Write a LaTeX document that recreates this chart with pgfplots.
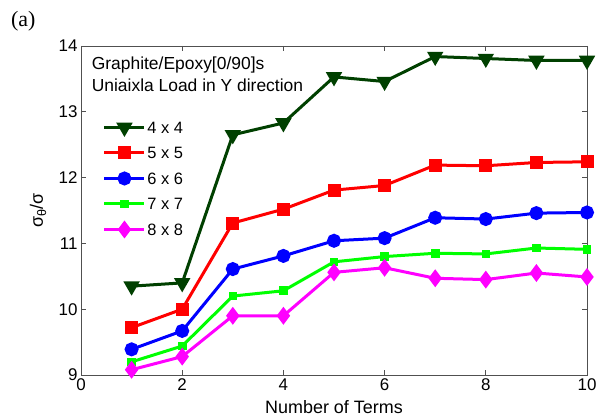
\documentclass[border=0pt]{standalone}
\usepackage{pgfplots}
\pgfplotsset{compat=1.18}
\usepackage{fontspec}
\setmainfont{Liberation Sans}
\newfontfamily\timesfont{Liberation Serif}
\definecolor{dkgreen}{RGB}{0,64,0}
\definecolor{axgray}{RGB}{80,80,80}
\definecolor{mred}{RGB}{255,0,0}
\definecolor{mblue}{RGB}{0,0,255}
\definecolor{mgreen}{RGB}{0,255,0}
\definecolor{mmag}{RGB}{255,0,255}
\begin{document}
\begin{tikzpicture}[x=1bp,y=1bp]
\useasboundingbox (0,0) rectangle (607,419);
\node[anchor=west, font=\timesfont\fontsize{22}{22}\selectfont, inner sep=0pt] at (11,398) {(a)};
\begin{axis}[
  at={(81bp,44bp)}, anchor=south west,
  scale only axis, width=506bp, height=329bp,
  xmin=0, xmax=10, ymin=9, ymax=14,
  xtick={0,2,4,6,8,10}, ytick={9,10,11,12,13,14},
  tick align=inside, major tick length=5bp,
  axis line style={axgray, line width=0.8bp},
  every tick/.style={axgray, line width=0.8bp},
  /pgf/number format/assume math mode=true,
  tick label style={font=\fontsize{17}{17}\selectfont},
  xlabel={Number of Terms},
  ylabel={σ\textsubscript{θ}/σ},
  label style={font=\fontsize{18}{18}\selectfont},
  xlabel style={at={(axis description cs:0.5,-0.0973)}, anchor=center},
  ylabel style={at={(axis description cs:-0.085,0.5)}, anchor=center},
  clip=false,
  every axis plot/.append style={line width=3bp},
  legend style={at={(axis description cs:0.043,0.775)}, anchor=north west,
    draw=none, fill=none, font=\fontsize{16.5}{16.5}\selectfont,
    row sep=11bp, inner sep=0pt,
    nodes={inner sep=1.5bp, text height=11.5bp, text depth=0bp}},
  legend cell align=left,
  legend image code/.code={\draw[mark repeat=2,mark phase=2] plot coordinates {(0bp,0bp)(20bp,0bp)(40bp,0bp)};},
]
\node[anchor=west, font=\fontsize{17.5}{17.5}\selectfont, inner sep=0pt] at (axis description cs:0.021,0.942) {Graphite/Epoxy[0/90]s};
\node[anchor=west, font=\fontsize{17.5}{17.5}\selectfont, inner sep=0pt] at (axis description cs:0.021,0.881) {Uniaixla Load in Y direction};
\addplot[dkgreen, mark=triangle*, mark size=6.5bp, mark options={rotate=180, solid}] coordinates {
(1,10.35)(2,10.40)(3,12.65)(4,12.83)(5,13.53)(6,13.46)(7,13.84)(8,13.81)(9,13.78)(10,13.78)};
\addlegendentry{4 x 4}
\addplot[mred, mark=square*, mark size=5bp] coordinates {
(1,9.72)(2,10.00)(3,11.31)(4,11.52)(5,11.81)(6,11.88)(7,12.19)(8,12.18)(9,12.23)(10,12.24)};
\addlegendentry{5 x 5}
\addplot[mblue, mark=*, mark size=5.5bp] coordinates {
(1,9.39)(2,9.67)(3,10.61)(4,10.81)(5,11.04)(6,11.08)(7,11.39)(8,11.37)(9,11.46)(10,11.47)};
\addlegendentry{6 x 6}
\addplot[mgreen, mark=square*, mark size=2.8bp] coordinates {
(1,9.20)(2,9.44)(3,10.20)(4,10.28)(5,10.72)(6,10.80)(7,10.85)(8,10.84)(9,10.93)(10,10.91)};
\addlegendentry{7 x 7}
\addplot[mmag, mark=diamond*, mark size=6.5bp] coordinates {
(1,9.08)(2,9.28)(3,9.90)(4,9.90)(5,10.56)(6,10.63)(7,10.47)(8,10.45)(9,10.55)(10,10.49)};
\addlegendentry{8 x 8}
\end{axis}
\end{tikzpicture}
\end{document}
